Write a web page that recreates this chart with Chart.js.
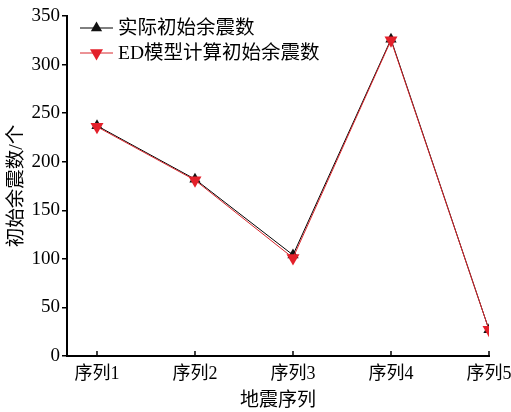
<!DOCTYPE html>
<html>
<head>
<meta charset="utf-8">
<script src="https://cdn.jsdelivr.net/npm/chart.js@4/dist/chart.umd.min.js"></script>
<style>
  html, body { margin: 0; padding: 0; background: #fff; }
  #wrap { width: 511px; height: 412px; position: relative; }
</style>
</head>
<body>
<div id="wrap"><canvas id="c" width="511" height="412"></canvas></div>
<script>
const categories = ['序列1', '序列2', '序列3', '序列4', '序列5'];
const actualValues = [237, 182, 104, 326, 27];
const edModelValues = [236, 181, 101, 325, 27];
const seriesNames = ['实际初始余震数', 'ED模型计算初始余震数'];
const yTicks = [0, 50, 100, 150, 200, 250, 300, 350];
const xTitle = '地震序列';
const yTitle = '初始余震数/个';

const FONT = "'Liberation Serif', 'Noto Sans CJK SC', serif";

const toPoints = arr => arr.map((v, i) => ({ x: i + 1, y: v }));

const innerXTicks = {
  id: 'innerXTicks',
  afterDraw(chart) {
    const ctx = chart.ctx;
    const xs = chart.scales.x;
    const bottom = chart.chartArea.bottom;
    ctx.save();
    ctx.strokeStyle = '#000';
    ctx.lineWidth = 1.5;
    xs.ticks.forEach(t => {
      const px = xs.getPixelForValue(t.value);
      ctx.beginPath();
      ctx.moveTo(px, bottom);
      ctx.lineTo(px, bottom - 5);
      ctx.stroke();
    });
    ctx.restore();
  }
};

const customLegend = {
  id: 'customLegend',
  afterDraw(chart) {
    const ctx = chart.ctx;
    const x0 = 80, x1 = 113, tx = 118;
    const rows = [28, 53];
    ctx.save();
    chart.data.datasets.forEach((ds, i) => {
      const y = rows[i];
      ctx.strokeStyle = ds.borderColor;
      ctx.lineWidth = 1;
      ctx.beginPath();
      ctx.moveTo(x0, y);
      ctx.lineTo(x1, y);
      ctx.stroke();
      ctx.fillStyle = ds.pointBackgroundColor;
      ctx.strokeStyle = ds.pointBorderColor;
      Chart.helpers.drawPoint(ctx, {
        pointStyle: ds.pointStyle,
        rotation: ds.pointRotation || 0,
        radius: ds.pointRadius,
        borderWidth: ds.pointBorderWidth
      }, (x0 + x1) / 2, y);
      ctx.fillStyle = '#000';
      ctx.font = '19.5px ' + FONT;
      ctx.textBaseline = 'middle';
      ctx.textAlign = 'left';
      ctx.fillText(ds.label, tx, y + 1);
    });
    ctx.restore();
  }
};

new Chart(document.getElementById('c'), {
  type: 'line',
  data: {
    datasets: [
      {
        label: seriesNames[0],
        data: toPoints(actualValues),
        borderColor: '#000000',
        borderWidth: 1,
        pointStyle: 'triangle',
        pointRadius: 6.5,
        pointBackgroundColor: '#111111',
        pointBorderColor: '#111111',
        pointBorderWidth: 0,
        order: 2
      },
      {
        label: seriesNames[1],
        data: toPoints(edModelValues),
        borderColor: '#d8262c',
        borderWidth: 1,
        pointStyle: 'triangle',
        pointRotation: 180,
        pointRadius: 7.5,
        pointBackgroundColor: '#e3202a',
        pointBorderColor: '#e3202a',
        pointBorderWidth: 0,
        order: 1
      }
    ]
  },
  options: {
    responsive: false,
    animation: false,
    devicePixelRatio: 1,
    layout: { padding: { top: 16, right: 0, left: 0, bottom: 0 } },
    plugins: {
      legend: { display: false },
      tooltip: { enabled: false }
    },
    scales: {
      x: {
        type: 'linear',
        min: 0.694,
        max: 5,
        afterBuildTicks: s => { s.ticks = categories.map((c, i) => ({ value: i + 1 })); },
        afterFit: s => { s.height = 56; s.paddingRight = 22; s.paddingLeft = 0; },
        grid: { drawOnChartArea: false, drawTicks: false },
        border: { color: '#000', width: 2 },
        ticks: {
          padding: 7,
          color: '#000',
          font: { family: FONT, size: 18 },
          maxRotation: 0,
          autoSkip: false,
          callback: v => categories[v - 1]
        },
        title: {
          display: true,
          text: xTitle,
          color: '#000',
          font: { family: FONT, size: 19 },
          padding: { top: 0, bottom: 0 }
        }
      },
      y: {
        min: 0,
        max: 350,
        afterBuildTicks: s => { s.ticks = yTicks.map(v => ({ value: v })); },
        afterFit: s => { s.width = 67; },
        grid: { drawOnChartArea: false, drawTicks: true, tickLength: 5, color: '#000', lineWidth: 1.5 },
        border: { color: '#000', width: 2 },
        ticks: {
          padding: 2,
          color: '#000',
          font: { family: FONT, size: 19 }
        },
        title: {
          display: true,
          text: yTitle,
          color: '#000',
          font: { family: FONT, size: 19.5 },
          padding: { top: 5, bottom: 0 }
        }
      }
    }
  },
  plugins: [innerXTicks, customLegend]
});
</script>
</body>
</html>
